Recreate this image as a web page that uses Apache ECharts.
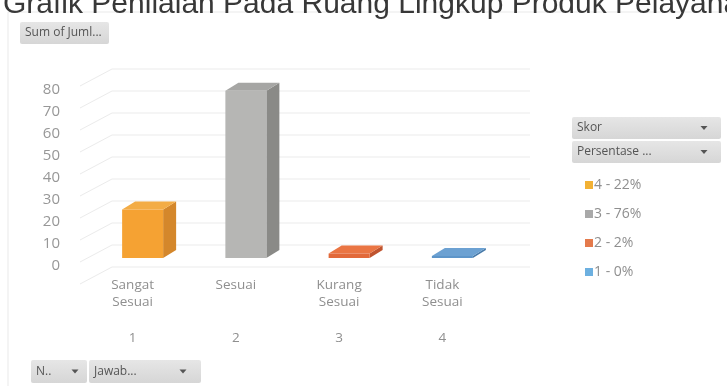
<!DOCTYPE html>
<html>
<head>
<meta charset="utf-8">
<title>Grafik Penilaian Pada Ruang Lingkup Produk Pelayanan</title>
<script src="https://cdn.jsdelivr.net/npm/echarts@6/dist/echarts.min.js"></script>
<style>
  html, body { margin: 0; padding: 0; background: #ffffff; }
  #chart { width: 727px; height: 386px; }
</style>
</head>
<body>
<div id="chart"></div>
<script>
// Response categories and their codes
const categories = ['Sangat\nSesuai', 'Sesuai', 'Kurang\nSesuai', 'Tidak\nSesuai'];
const codes = ['1', '2', '3', '4'];
// Sum of answers per category
const counts = [22, 76, 2, 0];
// Legend entries: score - percentage
const legendLabels = ['4 - 22%', '3 - 76%', '2 - 2%', '1 - 0%'];
// Value axis ticks
const yTicks = [0, 10, 20, 30, 40, 50, 60, 70, 80, 90];

// Shading for each column: legend swatch, front, side, top
const palette = [
  { swatch: '#f2b134', front: '#f5a233', side: '#d4872b', top: '#f3ac45' },
  { swatch: '#a9a9a9', front: '#b6b6b4', side: '#8a8a87', top: '#a6a6a4' },
  { swatch: '#e47a4c', front: '#e2693a', side: '#bf542f', top: '#ea7543' },
  { swatch: '#6db0e0', front: '#5d95c9', side: '#487aa9', top: '#6ca1d2' }
];

const DEPTH_X = 13, DEPTH_Y = -8, BAR_W = 41, SHIFT_X = 10;

function box3d(colors) {
  return function (params, api) {
    const c = api.value(0), v = api.value(1);
    const top = api.coord([c, v]);
    const base = api.coord([c, 0]);
    let yt = top[1];
    const yb = base[1];
    if (yb - yt < 2) yt = yb - 2;
    const cx = top[0] + SHIFT_X;
    const x0 = cx - BAR_W / 2, x1 = cx + BAR_W / 2;
    return {
      type: 'group',
      children: [
        { type: 'polygon', shape: { points: [[x1, yt], [x1 + DEPTH_X, yt + DEPTH_Y], [x1 + DEPTH_X, yb + DEPTH_Y], [x1, yb]] },
          style: { fill: colors.side } },
        { type: 'polygon', shape: { points: [[x0, yt], [x0 + DEPTH_X, yt + DEPTH_Y], [x1 + DEPTH_X, yt + DEPTH_Y], [x1, yt]] },
          style: { fill: colors.top } },
        { type: 'rect', shape: { x: x0, y: yt, width: BAR_W, height: yb - yt },
          style: { fill: colors.front } }
      ]
    };
  };
}

// Back wall and side wall gridlines
function wallLine(params, api) {
  const p = api.coord([0, api.value(1)]);
  const left = params.coordSys.x;
  const y = p[1];
  return {
    type: 'polyline',
    shape: { points: [[left - 1, y + 18], [left + 31, y + 1], [left + 449, y + 1]] },
    style: { stroke: '#ebebeb', lineWidth: 1, fill: null }
  };
}

function fieldButton(x, y, w, h, label, arrowX) {
  const children = [
    { type: 'rect', shape: { x: x, y: y, width: w, height: h, r: 2 },
      style: { fill: new echarts.graphic.LinearGradient(0, 0, 0, 1, [
        { offset: 0, color: '#e6e6e6' }, { offset: 1, color: '#d6d6d6' }]) } },
    { type: 'text', style: { x: x + 5, y: y + h / 2, text: label, fill: '#555555',
      font: '12px "Open Sans", sans-serif', verticalAlign: 'middle' } }
  ];
  if (arrowX != null) {
    children.push({ type: 'polygon',
      shape: { points: [[arrowX - 3.5, y + h / 2 - 2], [arrowX + 3.5, y + h / 2 - 2], [arrowX, y + h / 2 + 2]] },
      style: { fill: '#555555' } });
  }
  return { type: 'group', children: children };
}

const chart = echarts.init(document.getElementById('chart'), null, { renderer: 'canvas' });

const barSeries = counts.map((v, i) => ({
  name: legendLabels[i],
  type: 'custom',
  xAxisIndex: 0,
  yAxisIndex: 0,
  z: 3,
  itemStyle: { color: palette[i].swatch },
  renderItem: box3d(palette[i]),
  encode: { x: 0, y: 1 },
  data: [[i, v]]
}));

chart.setOption({
  animation: false,
  backgroundColor: '#ffffff',
  grid: [
    // column plane
    { left: 81, top: 60, width: 413, height: 198 },
    // label / wall plane
    { left: 81, top: 68, width: 413, height: 198 }
  ],
  xAxis: [
    { type: 'category', gridIndex: 0, data: categories, show: false },
    { type: 'category', gridIndex: 1, data: categories,
      axisLine: { show: false }, axisTick: { show: false },
      axisLabel: { color: '#8f8f8f', fontSize: 13.5, lineHeight: 17, margin: 11,
        fontFamily: '"Open Sans", sans-serif' } },
    { type: 'category', gridIndex: 1, data: codes, position: 'bottom', offset: 59,
      axisLine: { show: false }, axisTick: { show: false },
      axisLabel: { color: '#8f8f8f', fontSize: 13.5, margin: 6,
        fontFamily: '"Open Sans", sans-serif' } }
  ],
  yAxis: [
    { type: 'value', gridIndex: 0, min: 0, max: 90, interval: 10, show: false },
    { type: 'value', gridIndex: 1, min: 0, max: 90, interval: 10,
      axisLine: { show: false }, axisTick: { show: false }, splitLine: { show: false },
      axisLabel: { color: '#979797', fontSize: 15, margin: 21, showMaxLabel: false,
        fontFamily: '"Open Sans", sans-serif' } }
  ],
  legend: {
    data: legendLabels,
    orient: 'vertical',
    left: 580,
    top: 171,
    itemWidth: 8,
    itemHeight: 8,
    itemGap: 11,
    icon: 'rect',
    selectedMode: false,
    textStyle: { color: '#8f8f8f', fontSize: 14, lineHeight: 18, padding: [0, 0, 0, -4],
      fontFamily: '"Open Sans", sans-serif' }
  },
  graphic: [
    { type: 'rect', silent: true, z: -1,
      shape: { x: 8, y: 12, width: 760, height: 400 },
      style: { fill: null, stroke: '#e9e9e9', lineWidth: 1 } },
    { type: 'text', z: 10,
      style: { x: 3, y: 5, verticalAlign: 'middle',
        text: 'Grafik Penilaian Pada Ruang Lingkup Produk Pelayanan', fill: '#383838',
        font: '30px "Liberation Sans", Arial, sans-serif' } },
    fieldButton(20, 22, 89, 22, 'Sum of Juml...', null),
    fieldButton(572, 117, 149, 22, 'Skor', 704),
    fieldButton(572, 141, 149, 22, 'Persentase ...', 704),
    fieldButton(31, 360, 56, 23, 'N..', 75),
    fieldButton(89, 360, 112, 23, 'Jawab...', 183)
  ],
  series: [
    {
      name: 'wall',
      type: 'custom',
      xAxisIndex: 1,
      yAxisIndex: 1,
      z: 1,
      silent: true,
      renderItem: wallLine,
      data: yTicks.map(t => [0, t])
    }
  ].concat(barSeries)
});
</script>
</body>
</html>
